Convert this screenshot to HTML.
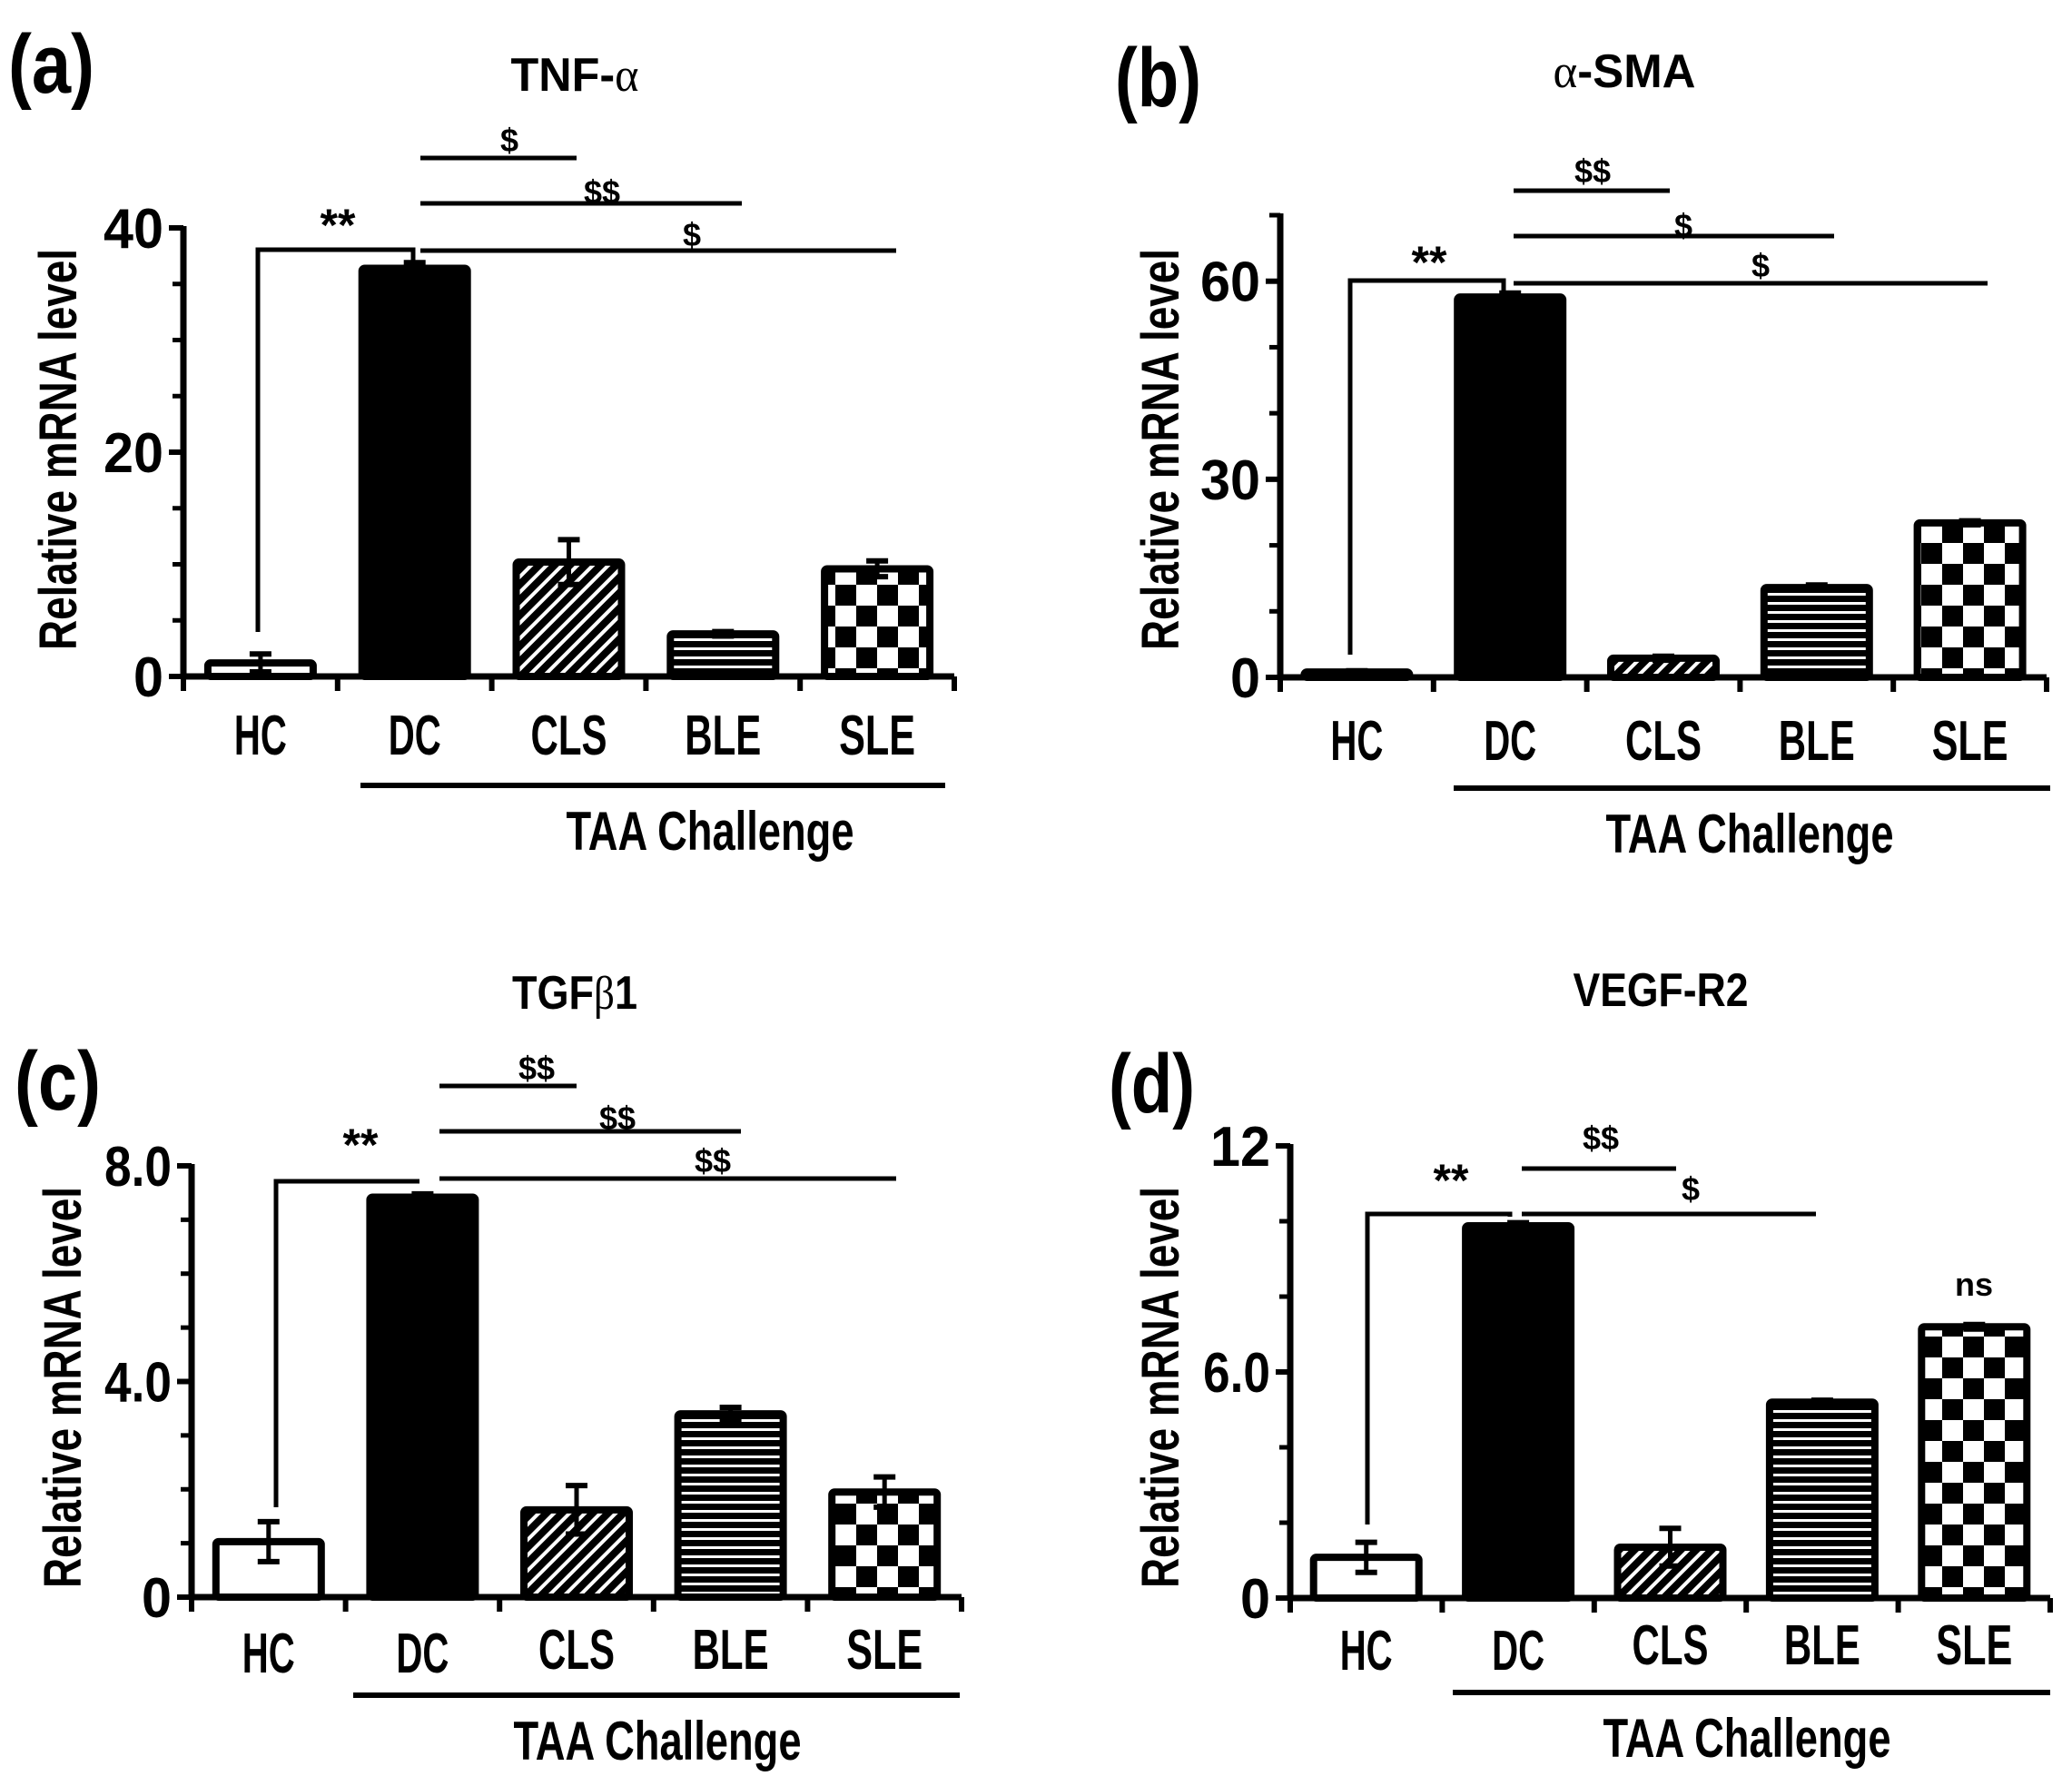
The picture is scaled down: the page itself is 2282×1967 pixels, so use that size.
<!DOCTYPE html>
<html><head><meta charset="utf-8"><style>
html,body{margin:0;padding:0;background:#fff}
svg{display:block}
text{font-family:"Liberation Sans Narrow","Liberation Sans",sans-serif;font-weight:bold;fill:#000}
</style></head><body>
<svg id="fig" width="2282" height="1967" viewBox="0 0 2282 1967" xmlns="http://www.w3.org/2000/svg">
<defs>
<pattern id="hatch" patternUnits="userSpaceOnUse" width="12" height="12" patternTransform="rotate(45)">
<rect width="12" height="12" fill="#000"/><rect x="0" y="0" width="4" height="12" fill="#fff"/></pattern>
<pattern id="horiz" patternUnits="userSpaceOnUse" width="10" height="10">
<rect width="10" height="10" fill="#000"/><rect x="0" y="3" width="10" height="3" fill="#fff"/></pattern>
<pattern id="checker" patternUnits="userSpaceOnUse" width="46" height="46">
<rect width="46" height="46" fill="#fff"/><rect width="23" height="23" fill="#000"/><rect x="23" y="23" width="23" height="23" fill="#000"/></pattern>
</defs>
</svg>
<script>
const categories = ["HC", "DC", "CLS", "BLE", "SLE"];
const fills = ["#fff", "#000", "url(#hatch)", "url(#horiz)", "url(#checker)"];
// Panel (a) TNF-alpha
const valuesA = [1.2, 36.4, 10.2, 3.8, 9.6];
const errA = [0.8, 0.5, 2.0, 0.2, 0.7];
const ticksA = [0, 20, 40];
const tickLabelsA = ["0", "20", "40"];
// Panel (b) alpha-SMA
const valuesB = [0.8, 57.6, 2.9, 13.6, 23.4];
const errB = [0.2, 0.6, 0.3, 0.4, 0.3];
const ticksB = [0, 30, 60];
const tickLabelsB = ["0", "30", "60"];
// Panel (c) TGFb1
const valuesC = [1.03, 7.42, 1.62, 3.4, 1.95];
const errC = [0.37, 0.06, 0.45, 0.12, 0.28];
const ticksC = [0, 4, 8];
const tickLabelsC = ["0", "4.0", "8.0"];
// Panel (d) VEGF-R2
const valuesD = [1.08, 9.88, 1.35, 5.2, 7.2];
const errD = [0.4, 0.08, 0.5, 0.05, 0.06];
const ticksD = [0, 6, 12];
const tickLabelsD = ["0", "6.0", "12"];

const NS = "http://www.w3.org/2000/svg";
const svg = document.getElementById("fig");
function mk(tag, attrs, parent, txt) {
  const e = document.createElementNS(NS, tag);
  for (const k in attrs) e.setAttribute(k, attrs[k]);
  if (txt !== undefined) e.textContent = txt;
  (parent || svg).appendChild(e);
  return e;
}
function line(g, x1, y1, x2, y2, w) {
  return mk("line", {x1, y1, x2, y2, stroke: "#000", "stroke-width": w || 5}, g);
}
function tickLen(s) {
  let w = 0;
  for (const ch of s) w += (ch === "." ? 8 : 33);
  return w;
}
const labLen = {HC: 58, DC: 58, CLS: 84, BLE: 84, SLE: 84};

function panel(cfg) {
  const g = mk("g", {}, svg);
  
  
  const y = v => cfg.y0 - (v / cfg.ymax) * (cfg.y0 - cfg.ytop);
  const band = (cfg.xend - cfg.ax) / categories.length;
  const xc = i => cfg.ax + band * (i + 0.5);
  const ya = line(g, cfg.ax, cfg.ytop - 2, cfg.ax, cfg.y0 + 3, 7);
  
  
  for (let v = 0; v <= cfg.ymax + 1e-9; v += cfg.minor) line(g, cfg.ax - 12, y(v), cfg.ax, y(v), 5);
  cfg.ticks.forEach((t, i) => {
    line(g, cfg.ax - 16, y(t), cfg.ax, y(t), 6);
    const s = cfg.tickLabels[i];
    const tl = mk("text", {x: cfg.ax - 22, y: y(t) + 22, "text-anchor": "end", "font-size": 62, textLength: tickLen(s), lengthAdjust: "spacingAndGlyphs"}, g, s);
    
    
  });
  const xa = line(g, cfg.ax - 3, cfg.y0, cfg.xend, cfg.y0, 7);
  
  
  for (let i = 0; i <= categories.length; i++) line(g, cfg.ax + band * i, cfg.y0, cfg.ax + band * i, cfg.y0 + 16, 6);
  const bw = 116;
  categories.forEach((c, i) => {
    const v = cfg.values[i], e = cfg.err[i];
    const top = y(v);
    const r = mk("rect", {x: xc(i) - bw / 2, y: top, width: bw, height: cfg.y0 - top, fill: fills[i], stroke: "#000", "stroke-width": 8, rx: 3}, g);
    
    
    const eb = mk("g", {}, g);
    
    
    line(eb, xc(i), y(v + e), xc(i), y(Math.max(0, v - e)), 5);
    line(eb, xc(i) - 12, y(v + e), xc(i) + 12, y(v + e), 6);
    line(eb, xc(i) - 12, y(Math.max(0, v - e)), xc(i) + 12, y(Math.max(0, v - e)), 6);
    const lb = mk("text", {x: xc(i), y: cfg.labY + (i >= 2 ? cfg.labDy : 0) + 22, "text-anchor": "middle", "font-size": 62, textLength: labLen[c], lengthAdjust: "spacingAndGlyphs"}, g, c);
    
    
  });
  const tl = line(g, cfg.taa[0], cfg.taa[2], cfg.taa[1], cfg.taa[2], 6);
  
  
  const tt = mk("text", {x: cfg.taaTx, y: cfg.taa[2] + 71, "text-anchor": "middle", "font-size": 60, textLength: 317, lengthAdjust: "spacingAndGlyphs"}, g, "TAA Challenge");
  
  
  const yl = mk("text", {x: 0, y: 0, transform: `translate(${cfg.ylx + 19},${cfg.yly}) rotate(-90)`, "text-anchor": "middle", "font-size": 58, textLength: 442, lengthAdjust: "spacingAndGlyphs"}, g, "Relative mRNA level");
  
  
  const ti = mk("text", {x: cfg.title[1], y: cfg.title[2] + 18, "text-anchor": "middle", "font-size": 52, textLength: cfg.title[3], lengthAdjust: "spacingAndGlyphs"}, g);
  
  
  cfg.title[0].forEach(p => {
    mk("tspan", p[1] ? {"font-family": "Liberation Serif, serif", "font-weight": "normal"} : {}, ti, p[0]);
  });
  const pl = mk("text", {x: cfg.letter[1], y: cfg.letter[2] + 32, "font-size": 92, textLength: 95, lengthAdjust: "spacingAndGlyphs"}, g, cfg.letter[0]);
  
  
  const sg = mk("g", {}, g);
  
  
  const b = cfg.bracket;
  mk("polyline", {points: `${b[0]},${b[1]} ${b[0]},${b[2]} ${b[3]},${b[2]} ${b[3]},${b[4]}`, fill: "none", stroke: "#000", "stroke-width": 5}, sg);
  mk("text", {x: cfg.stars[0], y: cfg.stars[1] + 24, "text-anchor": "middle", "font-size": 50, "font-family": "Liberation Sans, sans-serif", "font-weight": "normal"}, sg, "**");
  cfg.sig.forEach(s => {
    line(sg, s[0], s[2], s[1], s[2], 5);
    mk("text", {x: s[4], y: s[5] + 13, "text-anchor": "middle", "font-size": 36, "font-family": "DejaVu Sans, sans-serif", "font-weight": "normal"}, sg, s[3]);
  });
  if (cfg.ns) {
    const n = mk("text", {x: cfg.ns[0], y: cfg.ns[1] + 11, "text-anchor": "middle", "font-size": 36, "font-family": "DejaVu Sans, sans-serif", "font-weight": "normal"}, sg, "ns");
    
    
  }
}

panel({name: "panel-a-tnf-alpha", ax: 202, xend: 1051, y0: 745, ytop: 251, ymax: 40, minor: 5,
  ticks: ticksA, tickLabels: tickLabelsA, values: valuesA, err: errA,
  labY: 809, labDy: 0, taa: [397, 1041, 865], taaTx: 782, ylx: 65, yly: 495,
  title: [[["TNF-", 0], ["α", 1]], 633, 82, 141], letter: ["(a)", 9, 70],
  bracket: [284, 696, 275, 455, 295], stars: [372, 241],
  sig: [[463, 635, 174, "$", 561, 154], [463, 817, 224, "$$", 663, 211], [463, 987, 276, "$", 762, 258]]});

panel({name: "panel-b-alpha-sma", ax: 1410, xend: 2254, y0: 746, ytop: 237, ymax: 70, minor: 10,
  ticks: ticksB, tickLabels: tickLabelsB, values: valuesB, err: errB,
  labY: 815, labDy: 0, taa: [1601, 2258, 868], taaTx: 1927, ylx: 1279, yly: 495,
  title: [[["α", 1], ["-SMA", 0]], 1789, 78, 157], letter: ["(b)", 1228, 85],
  bracket: [1487, 721, 309, 1656, 320], stars: [1574, 282],
  sig: [[1667, 1839, 210, "$$", 1754, 188], [1667, 2020, 260, "$", 1854, 248], [1667, 2189, 312, "$", 1939, 292]]});

panel({name: "panel-c-tgfb1", ax: 211, xend: 1059, y0: 1759, ytop: 1284, ymax: 8, minor: 1,
  ticks: ticksC, tickLabels: tickLabelsC, values: valuesC, err: errC,
  labY: 1820, labDy: -4, taa: [389, 1057, 1867], taaTx: 724, ylx: 70, yly: 1528,
  title: [[["TGF", 0], ["β", 1], ["1", 0]], 633, 1093, 138], letter: ["(c)", 16, 1190],
  bracket: [304, 1660, 1301, 462, 1301], stars: [397, 1254],
  sig: [[484, 635, 1196, "$$", 591, 1176], [484, 816, 1246, "$$", 680, 1231], [484, 987, 1298, "$$", 785, 1278]]});

panel({name: "panel-d-vegf-r2", ax: 1421, xend: 2258, y0: 1760, ytop: 1262, ymax: 12, minor: 2,
  ticks: ticksD, tickLabels: tickLabelsD, values: valuesD, err: errD,
  labY: 1817, labDy: -6, taa: [1600, 2258, 1864], taaTx: 1924, ylx: 1279, yly: 1528,
  title: [[["VEGF-R2", 0]], 1829, 1090, 193], letter: ["(d)", 1221, 1193],
  bracket: [1506, 1679, 1337, 1663, 1340], stars: [1598, 1293],
  sig: [[1676, 1846, 1287, "$$", 1763, 1253], [1676, 2000, 1337, "$", 1862, 1309]],
  ns: [2174, 1416]});
</script>
</body></html>
